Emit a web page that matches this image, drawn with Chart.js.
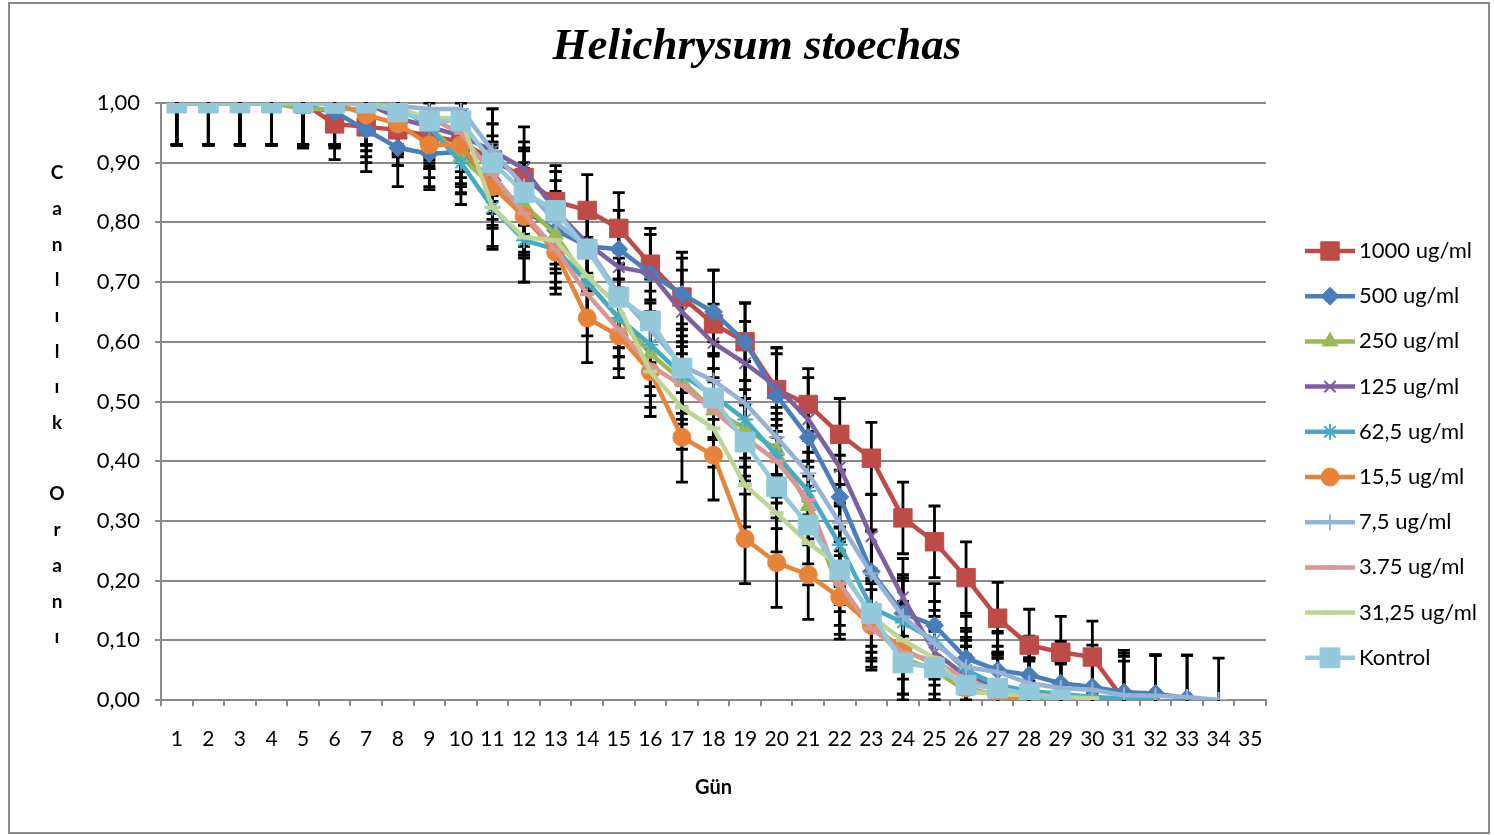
<!DOCTYPE html>
<html>
<head>
<meta charset="utf-8">
<script src="https://cdn.jsdelivr.net/npm/chart.js@4/dist/chart.umd.min.js"></script>
<style>
  body { margin: 0; background: #fff; }
  #wrap { position: relative; width: 1494px; height: 835px; }
  #frame { position: absolute; left: 8px; top: 2px; width: 1478px; height: 828px; border: 2px solid #8a8a8a; pointer-events: none; }
</style>
</head>
<body>
<div id="wrap"><canvas id="chart"></canvas><div id="frame"></div></div>
<script>
const chartTitle = 'Helichrysum stoechas';
const xTitle = 'Gün';
const yTitle = 'Canlılık Oranı';

const days = ['1','2','3','4','5','6','7','8','9','10','11','12','13','14','15','16','17','18',
  '19','20','21','22','23','24','25','26','27','28','29','30','31','32','33','34','35'];

const seriesNames = ['1000 ug/ml','500 ug/ml','250 ug/ml','125 ug/ml','62,5 ug/ml',
  '15,5 ug/ml','7,5 ug/ml','3.75 ug/ml','31,25 ug/ml','Kontrol'];

// mean survival ratio per day
const v1000 = [1,1,1,1,1, 0.965,0.96,0.955,0.945,0.935, 0.905,0.875,0.835,0.82,0.79, 0.73,0.675,0.63,0.60,0.52,
  0.495,0.445,0.405,0.305,0.265, 0.205,0.137,0.092,0.08,0.072, 0,null,null,null,null];
const v500 = [1,1,1,1,0.995, 0.985,0.955,0.925,0.915,0.918, 0.87,0.82,0.787,0.76,0.755, 0.715,0.68,0.65,0.60,0.51,
  0.44,0.34,0.215,0.145,0.125, 0.07,0.05,0.042,0.028,0.022, 0.013,0.011,0.003,null,null];
const v250 = [1,1,1,1,0.99, 0.99,0.99,0.995,0.96,0.91, 0.86,0.83,0.78,0.70,0.64, 0.58,0.535,0.485,0.455,0.42,
  0.325,0.18,0.13,0.07,0.05, 0.015,0.01,0.005,0.003,0, null,null,null,null,null];
const v125 = [1,1,1,1,1, 1,1,0.975,0.96,0.945, 0.92,0.89,0.82,0.765,0.725, 0.715,0.65,0.598,0.564,0.525,
  0.47,0.39,0.274,0.172,0.08, 0.04,0.02,0.01,0.005,0, null,null,null,null,null];
const v62 = [1,1,1,1,1, 1,1,0.995,0.96,0.90, 0.825,0.77,0.755,0.70,0.64, 0.595,0.545,0.51,0.47,0.41,
  0.35,0.26,0.155,0.13,0.10, 0.05,0.025,0.015,0.01,0.005, 0.003,0,null,null,null];
const v15 = [1,1,1,1,1, 1,0.98,0.965,0.93,0.93, 0.86,0.81,0.75,0.64,0.61, 0.55,0.44,0.41,0.27,0.23,
  0.21,0.172,0.125,0.085,0.06, 0.02,0.008,0,null,null, null,null,null,null,null];
const v7 = [1,1,1,1,1, 1,1,0.995,0.99,0.99, 0.92,0.86,0.80,0.76,0.68, 0.62,0.56,0.535,0.497,0.44,
  0.38,0.296,0.212,0.14,0.095, 0.055,0.047,0.028,0.02,0.017, 0.008,0.007,0.005,0,null];
const v375 = [1,1,1,1,1, 1,1,0.985,0.975,0.95, 0.88,0.815,0.755,0.68,0.62, 0.56,0.527,0.485,0.44,0.40,
  0.335,0.195,0.12,0.08,0.065, 0.035,0.015,0.01,0.005,null, null,null,null,null,null];
const v3125 = [1,1,1,1,1, 1,1,0.99,0.975,0.975, 0.825,0.775,0.77,0.71,0.66, 0.55,0.49,0.455,0.36,0.313,
  0.263,0.225,0.14,0.10,0.07, 0.015,0.01,0.008,0.005,0.003, null,null,null,null,null];
const vKontrol = [1,1,1,1,1, 1,1,0.985,0.97,0.97, 0.90,0.85,0.82,0.755,0.675, 0.635,0.556,0.506,0.432,0.357,
  0.293,0.218,0.145,0.062,0.054, 0.025,0.02,0.01,0,null, null,null,null,null,null];

// standard deviation (error bars)
const e1000 = [0.07,0.07,0.07,0.07,0.07, 0.06,0.06,0.06,0.07,0.07, 0.06,0.06,0.06,0.06,0.06, 0.06,0.075,0.09,0.065,0.07,
  0.06,0.06,0.06,0.06,0.06, 0.06,0.06,0.06,0.06,0.06, 0.065,null,null,null,null];
const e500 = [0.07,0.07,0.07,0.07,0.07, 0.06,0.07,0.065,0.06,0.07, 0.065,0.07,0.065,0.07,0.065, 0.065,0.06,0.07,0.065,0.07,
  0.065,0.07,0.07,0.065,0.07, 0.07,0.065,0.065,0.07,0.07, 0.07,0.065,0.072,null,null];
const e250 = [0.07,0.07,0.07,0.07,0.065, 0.065,0.07,0.065,0.07,0.06, 0.065,0.07,0.065,0.07,0.065, 0.07,0.065,0.07,0.065,0.07,
  0.065,0.07,0.065,0.07,0.065, 0.06,0.06,0.06,0.06,0.06, null,null,null,null,null];
const e125 = [0.07,0.07,0.07,0.07,0.07, 0.07,0.07,0.065,0.065,0.07, 0.07,0.07,0.065,0.06,0.065, 0.065,0.07,0.065,0.07,0.065,
  0.07,0.065,0.07,0.065,0.07, 0.065,0.06,0.06,0.06,0.06, null,null,null,null,null];
const e62 = [0.07,0.07,0.07,0.07,0.07, 0.07,0.07,0.065,0.07,0.07, 0.07,0.07,0.065,0.07,0.065, 0.07,0.065,0.07,0.065,0.07,
  0.065,0.07,0.065,0.07,0.065, 0.065,0.065,0.065,0.065,0.065, 0.07,0.075,null,null,null];
const e15 = [0.07,0.07,0.07,0.07,0.07, 0.07,0.07,0.07,0.07,0.07, 0.07,0.07,0.07,0.075,0.07, 0.075,0.075,0.075,0.075,0.075,
  0.075,0.07,0.075,0.075,0.07, 0.07,0.07,0.07,null,null, null,null,null,null,null];
const e7 = [0.07,0.07,0.07,0.07,0.07, 0.07,0.07,0.07,0.065,0.07, 0.07,0.065,0.07,0.065,0.07, 0.065,0.07,0.065,0.07,0.065,
  0.07,0.065,0.07,0.065,0.07, 0.065,0.065,0.065,0.065,0.065, 0.07,0.068,0.07,0.07,null];
const e375 = [0.07,0.07,0.07,0.07,0.07, 0.07,0.07,0.07,0.07,0.065, 0.065,0.07,0.065,0.07,0.065, 0.07,0.065,0.07,0.065,0.07,
  0.065,0.07,0.065,0.07,0.065, 0.065,0.06,0.06,0.06,null, null,null,null,null,null];
const e3125 = [0.07,0.07,0.07,0.07,0.07, 0.07,0.07,0.07,0.065,0.07, 0.065,0.075,0.07,0.065,0.07, 0.075,0.07,0.065,0.07,0.065,
  0.07,0.065,0.07,0.065,0.07, 0.06,0.06,0.06,0.06,0.06, null,null,null,null,null];
const eKontrol = [0.07,0.07,0.07,0.07,0.07, 0.07,0.07,0.07,0.07,0.07, 0.065,0.07,0.065,0.07,0.065, 0.07,0.065,0.07,0.065,0.07,
  0.065,0.07,0.065,0.07,0.065, 0.065,0.06,0.06,0.06,null, null,null,null,null,null];

const values = [v1000, v500, v250, v125, v62, v15, v7, v375, v3125, vKontrol];
const errors = [e1000, e500, e250, e125, e62, e15, e7, e375, e3125, eKontrol];

const colors = ['#BE4B48','#4A7EBB','#98B954','#7D60A0','#46AAC5','#E8843A','#95B3D7','#D99694','#BDD597','#93C9DB'];
const markers = ['rect','rectRot','triangle','crossRot','star','circle','cross','line','line','rect'];
const markerSize = [13, 9, 9, 8, 8, 9, 8, 7, 7, 14];
const markerBorder = [1, 1, 1, 2, 2, 1, 2, 4, 4, 1];

const errorBars = {
  id: 'errorBars',
  beforeDatasetsDraw(chart) {
    const { ctx, chartArea, scales: { x, y } } = chart;
    ctx.save();
    ctx.beginPath();
    ctx.rect(chartArea.left, chartArea.top - 1, chartArea.width, chartArea.height + 2);
    ctx.clip();
    ctx.strokeStyle = '#000';
    ctx.lineWidth = 2.8;
    chart.data.datasets.forEach(ds => {
      ds.errors.forEach((e, i) => {
        const v = ds.data[i];
        if (v == null || e == null) return;
        const px = x.getPixelForValue(i);
        const top = y.getPixelForValue(v + e);
        const bot = y.getPixelForValue(v - e);
        ctx.beginPath();
        ctx.moveTo(px, top); ctx.lineTo(px, bot);
        ctx.moveTo(px - 6, top); ctx.lineTo(px + 6, top);
        ctx.moveTo(px - 6, bot); ctx.lineTo(px + 6, bot);
        ctx.stroke();
      });
    });
    ctx.restore();
  }
};

const decorations = {
  id: 'decorations',
  afterDraw(chart) {
    const { ctx, chartArea } = chart;
    ctx.save();
    ctx.fillStyle = '#000';
    ctx.textAlign = 'center';
    ctx.textBaseline = 'middle';
    ctx.font = 'italic bold 45px "Liberation Serif"';
    ctx.fillText(chartTitle, 757, 47);

    ctx.font = 'bold 19px Lato';
    yTitle.split('').forEach((ch, i) => ctx.fillText(ch, 57, 173 + i * 35.7));

    // legend
    const lx = chartArea.right + 39;
    chart.data.datasets.forEach((ds, i) => {
      const ly = 251 + i * 45.2;
      ctx.strokeStyle = ds.borderColor;
      ctx.lineWidth = 4.5;
      ctx.beginPath();
      ctx.moveTo(lx, ly); ctx.lineTo(lx + 50, ly);
      ctx.stroke();
      ctx.fillStyle = ds.pointBackgroundColor;
      ctx.strokeStyle = ds.pointBorderColor;
      ctx.lineWidth = ds.pointBorderWidth;
      Chart.helpers.drawPoint(ctx, {
        pointStyle: ds.pointStyle, radius: ds.pointRadius,
        borderWidth: ds.pointBorderWidth, rotation: 0
      }, lx + 25, ly);
      ctx.fillStyle = '#000';
      ctx.textAlign = 'left';
      ctx.font = '22px Lato';
      ctx.fillText(ds.label, lx + 54, ly);
    });
    ctx.restore();
  }
};

Chart.defaults.font.family = 'Lato';
Chart.defaults.color = '#000';

const ctx = document.getElementById('chart').getContext('2d');
const chart = new Chart(ctx, {
  type: 'line',
  data: {
    labels: days,
    datasets: seriesNames.map((name, i) => ({
      label: name,
      data: values[i],
      errors: errors[i],
      borderColor: colors[i],
      backgroundColor: colors[i],
      borderWidth: 4.5,
      pointStyle: markers[i],
      pointRadius: markerSize[i],
      pointHoverRadius: markerSize[i],
      pointBackgroundColor: colors[i],
      pointBorderColor: colors[i],
      pointBorderWidth: markerBorder[i],
      tension: 0,
      fill: false,
      order: seriesNames.length - i
    }))
  },
  options: {
    responsive: true,
    maintainAspectRatio: false,
    devicePixelRatio: 1,
    animation: false,
    layout: { padding: { top: 103, right: 228, bottom: 0, left: 0 } },
    plugins: {
      legend: { display: false },
      title: { display: false },
      tooltip: { enabled: false }
    },
    scales: {
      x: {
        offset: true,
        grid: { offset: true, drawOnChartArea: false, color: '#8a8a8a', lineWidth: 2, tickLength: 6 },
        border: { color: '#8a8a8a', width: 2 },
        ticks: { font: { size: 21 }, padding: 21, maxRotation: 0, autoSkip: false },
        title: { display: true, text: xTitle, font: { size: 20, weight: 'bold' }, padding: { bottom: 35 } },
        afterFit(scale) { scale.height = 135; }
      },
      y: {
        min: 0,
        max: 1,
        grid: { color: '#8a8a8a', lineWidth: 2, tickLength: 6 },
        border: { color: '#8a8a8a', width: 2 },
        ticks: {
          stepSize: 0.1,
          padding: 15,
          font: { size: 22 },
          callback: v => v.toFixed(2).replace('.', ',')
        },
        afterFit(scale) { scale.width = 161; }
      }
    }
  },
  plugins: [errorBars, decorations]
});
</script>
</body>
</html>
